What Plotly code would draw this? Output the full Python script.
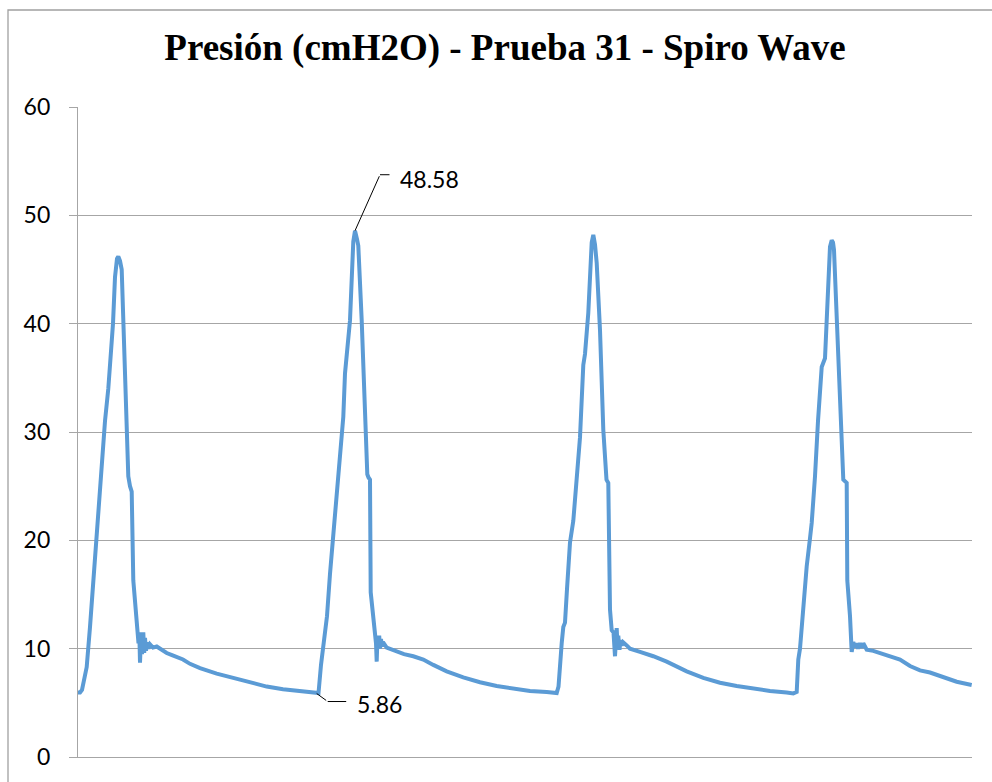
import plotly.graph_objects as go
import numpy as np

# Time index (arbitrary sample units) and pressure (cmH2O)
t_c1 = [0, 2, 4, 8.7, 12, 15.3, 18.7, 22, 25.3, 27, 30.3, 33.7, 35, 37, 39, 40.3, 42, 43.7, 45, 47,
        48.7, 50.3, 52, 53.7, 55.3, 57, 59.3, 60.5, 61.3, 62, 63, 64, 65.3, 66.2, 67, 68, 69, 70.5,
        72, 75, 78.7, 82, 88.7, 94, 105, 112, 122, 138.7, 155, 172, 188.7, 205, 222, 238.7]
p_c1 = [5.95, 5.95, 6.2, 8.3, 12, 16.3, 19.8, 24.5, 29, 31, 34, 38.5, 40, 44.3, 46.0, 46.2, 45.8, 45,
        41, 35, 30.2, 25.9, 25, 24.5, 16.3, 14.5, 11.7, 10.5, 11.5, 8.7, 11.2, 9.5, 11.5, 9.6, 11,
        9.8, 10.6, 10.0, 10.4, 10.1, 10.2, 10.0, 9.6, 9.4, 9.0, 8.6, 8.2, 7.7, 7.3, 6.85, 6.5, 6.25,
        6.05, 5.86]

t_c2 = [240.5, 243, 247, 249, 252, 255.3, 258, 262, 265.3, 267, 269, 272, 275.3, 277, 279, 280.3,
        283.7, 287, 289.3, 290.5, 292, 292.7, 294.5, 297, 298, 298.7, 299.5, 300.3, 301.2, 302, 303,
        304, 305, 308.7, 318.7, 326, 335.3, 345.3, 355.3, 368.7, 385.3, 402, 418.7, 435.3, 452,
        468.7, 478.7]
p_c2 = [5.9, 8.5, 11.3, 13, 16.9, 20.5, 24.5, 28.1, 31.4, 35.4, 37.5, 40.3, 47.6, 48.58, 47.8, 47.2,
        40.3, 31.4, 26.1, 25.8, 25.6, 15.2, 13.5, 11.3, 10.5, 8.8, 11.1, 10.2, 11.2, 10.0, 10.9, 10.2,
        10.6, 10.1, 9.7, 9.5, 9.3, 9.0, 8.5, 7.9, 7.35, 6.9, 6.55, 6.3, 6.1, 6.0, 5.9]

t_c3 = [480.5, 482, 483.7, 485.3, 487, 489, 492, 495.3, 498.7, 502, 505.3, 507, 510.3, 513.7, 515.3,
        517, 518.7, 522, 525.3, 527, 528.5, 530.3, 532, 533.7, 535.5, 537, 538.7, 539.5, 540.3,
        541.5, 542.5, 543.7, 545, 548.7, 552, 562, 575.3, 588.7, 598.7, 608.7, 625.3, 642, 658.7,
        675.3, 692, 708.7, 715.3]
p_c3 = [6.5, 9.0, 10.5, 12.0, 12.4, 15.5, 19.8, 21.8, 25.9, 29.5, 36.2, 37.2, 41, 47.5, 48.2, 47.3,
        45.6, 39.4, 30.2, 27.1, 25.6, 25.3, 13.6, 11.7, 11.5, 9.3, 11.9, 10.2, 11.2, 9.9, 10.8, 10.3,
        10.6, 10.3, 10.0, 9.7, 9.3, 8.8, 8.3, 7.9, 7.3, 6.85, 6.55, 6.3, 6.1, 5.95, 5.87]

t_c4 = [718.7, 720.3, 722, 723.7, 725, 728.7, 732, 733.7, 737, 738.7, 740, 743.7, 747, 748.7, 752,
        753.7, 755, 756, 760.3, 763.7, 765.3, 768.7, 769.3, 772, 773.7, 775.3, 777, 778.7, 780, 782,
        784, 785.3, 788.7, 795.3, 802, 812, 822, 832, 842, 852, 865.3, 878.7, 893.7]
p_c4 = [6.0, 9.0, 10.0, 12.0, 13, 17.6, 20.2, 21.6, 25.9, 29, 31, 36.0, 36.8, 40.3, 47.1, 47.7, 47.5,
        46.8, 37.3, 29.6, 25.6, 25.3, 16.3, 13.0, 9.7, 10.6, 10.1, 10.5, 10.0, 10.5, 10.1, 10.5, 9.9,
        9.8, 9.6, 9.35, 9.0, 8.4, 8.0, 7.8, 7.35, 6.95, 6.65]

y_ticks = [0, 10, 20, 30, 40, 50, 60]
title_text = "Presión (cmH2O) - Prueba 31 - Spiro Wave"

t = t_c1 + t_c2 + t_c3 + t_c4
p = p_c1 + p_c2 + p_c3 + p_c4

i_peak = int(np.argmax(p))
i_valley = int(np.argmin(p[:i_peak]))

GRID = "#A6A6A6"
LINE = "#5B9BD5"
fs = 23

fig = go.Figure()
fig.add_trace(go.Scatter(x=t, y=p, mode="lines",
                         line=dict(color=LINE, width=4),
                         hoverinfo="skip", showlegend=False))

ann = []
# peak label with elbow leader
ann.append(dict(x=t[i_peak], y=p[i_peak], text="", showarrow=True, arrowhead=0,
                arrowwidth=1, arrowcolor="black", ax=25, ay=-56, standoff=0, startstandoff=0))
ann.append(dict(x=t[i_peak], y=p[i_peak], text="", showarrow=True, arrowhead=0,
                arrowwidth=1, arrowcolor="black", ax=11, ay=0, xshift=25, yshift=56))
ann.append(dict(x=t[i_peak], y=p[i_peak], text=f"{p[i_peak]:.2f}", showarrow=False,
                xanchor="left", yanchor="middle", xshift=43, yshift=52,
                font=dict(family="Lato", size=fs, color="black")))
# valley label with elbow leader
ann.append(dict(x=t[i_valley], y=p[i_valley], text="", showarrow=True, arrowhead=0,
                arrowwidth=1, arrowcolor="black", ax=11, ay=8))
ann.append(dict(x=t[i_valley], y=p[i_valley], text="", showarrow=True, arrowhead=0,
                arrowwidth=1, arrowcolor="black", ax=20, ay=0, xshift=11, yshift=-8))
ann.append(dict(x=t[i_valley], y=p[i_valley], text=f"{p[i_valley]:.2f}", showarrow=False,
                xanchor="left", yanchor="middle", xshift=38, yshift=-10,
                font=dict(family="Lato", size=fs, color="black")))

fig.update_layout(
    width=992, height=782,
    margin=dict(l=78, r=20, t=107, b=25),
    paper_bgcolor="white", plot_bgcolor="white",
    title=dict(text=f"<b>{title_text}</b>", x=505 / 992, xanchor="center",
               y=1 - 47 / 782, yanchor="middle", yref="container",
               font=dict(family="Liberation Serif", size=37, color="black")),
    xaxis=dict(range=[0, 894], showgrid=False, zeroline=False, showticklabels=False,
               ticks="", showline=True, linecolor=GRID, linewidth=1.3, fixedrange=True),
    yaxis=dict(range=[0, 60], tickvals=y_ticks, showgrid=True, gridcolor=GRID, gridwidth=1.3,
               zeroline=False, showline=True, linecolor=GRID, linewidth=1.3,
               ticks="outside", ticklen=8, tickcolor=GRID, tickwidth=1.3,
               ticklabelstandoff=14,
               tickfont=dict(family="Lato", size=fs, color="black")),
    annotations=ann,
    shapes=[dict(type="rect", xref="paper", yref="paper",
                 x0=-70 / 894, x1=1.05, y0=-0.08, y1=(757 - 10) / 650,
                 line=dict(color="#A0A0A0", width=1.3), fillcolor="rgba(0,0,0,0)", layer="below")],
)

fig.write_html("out.html")
